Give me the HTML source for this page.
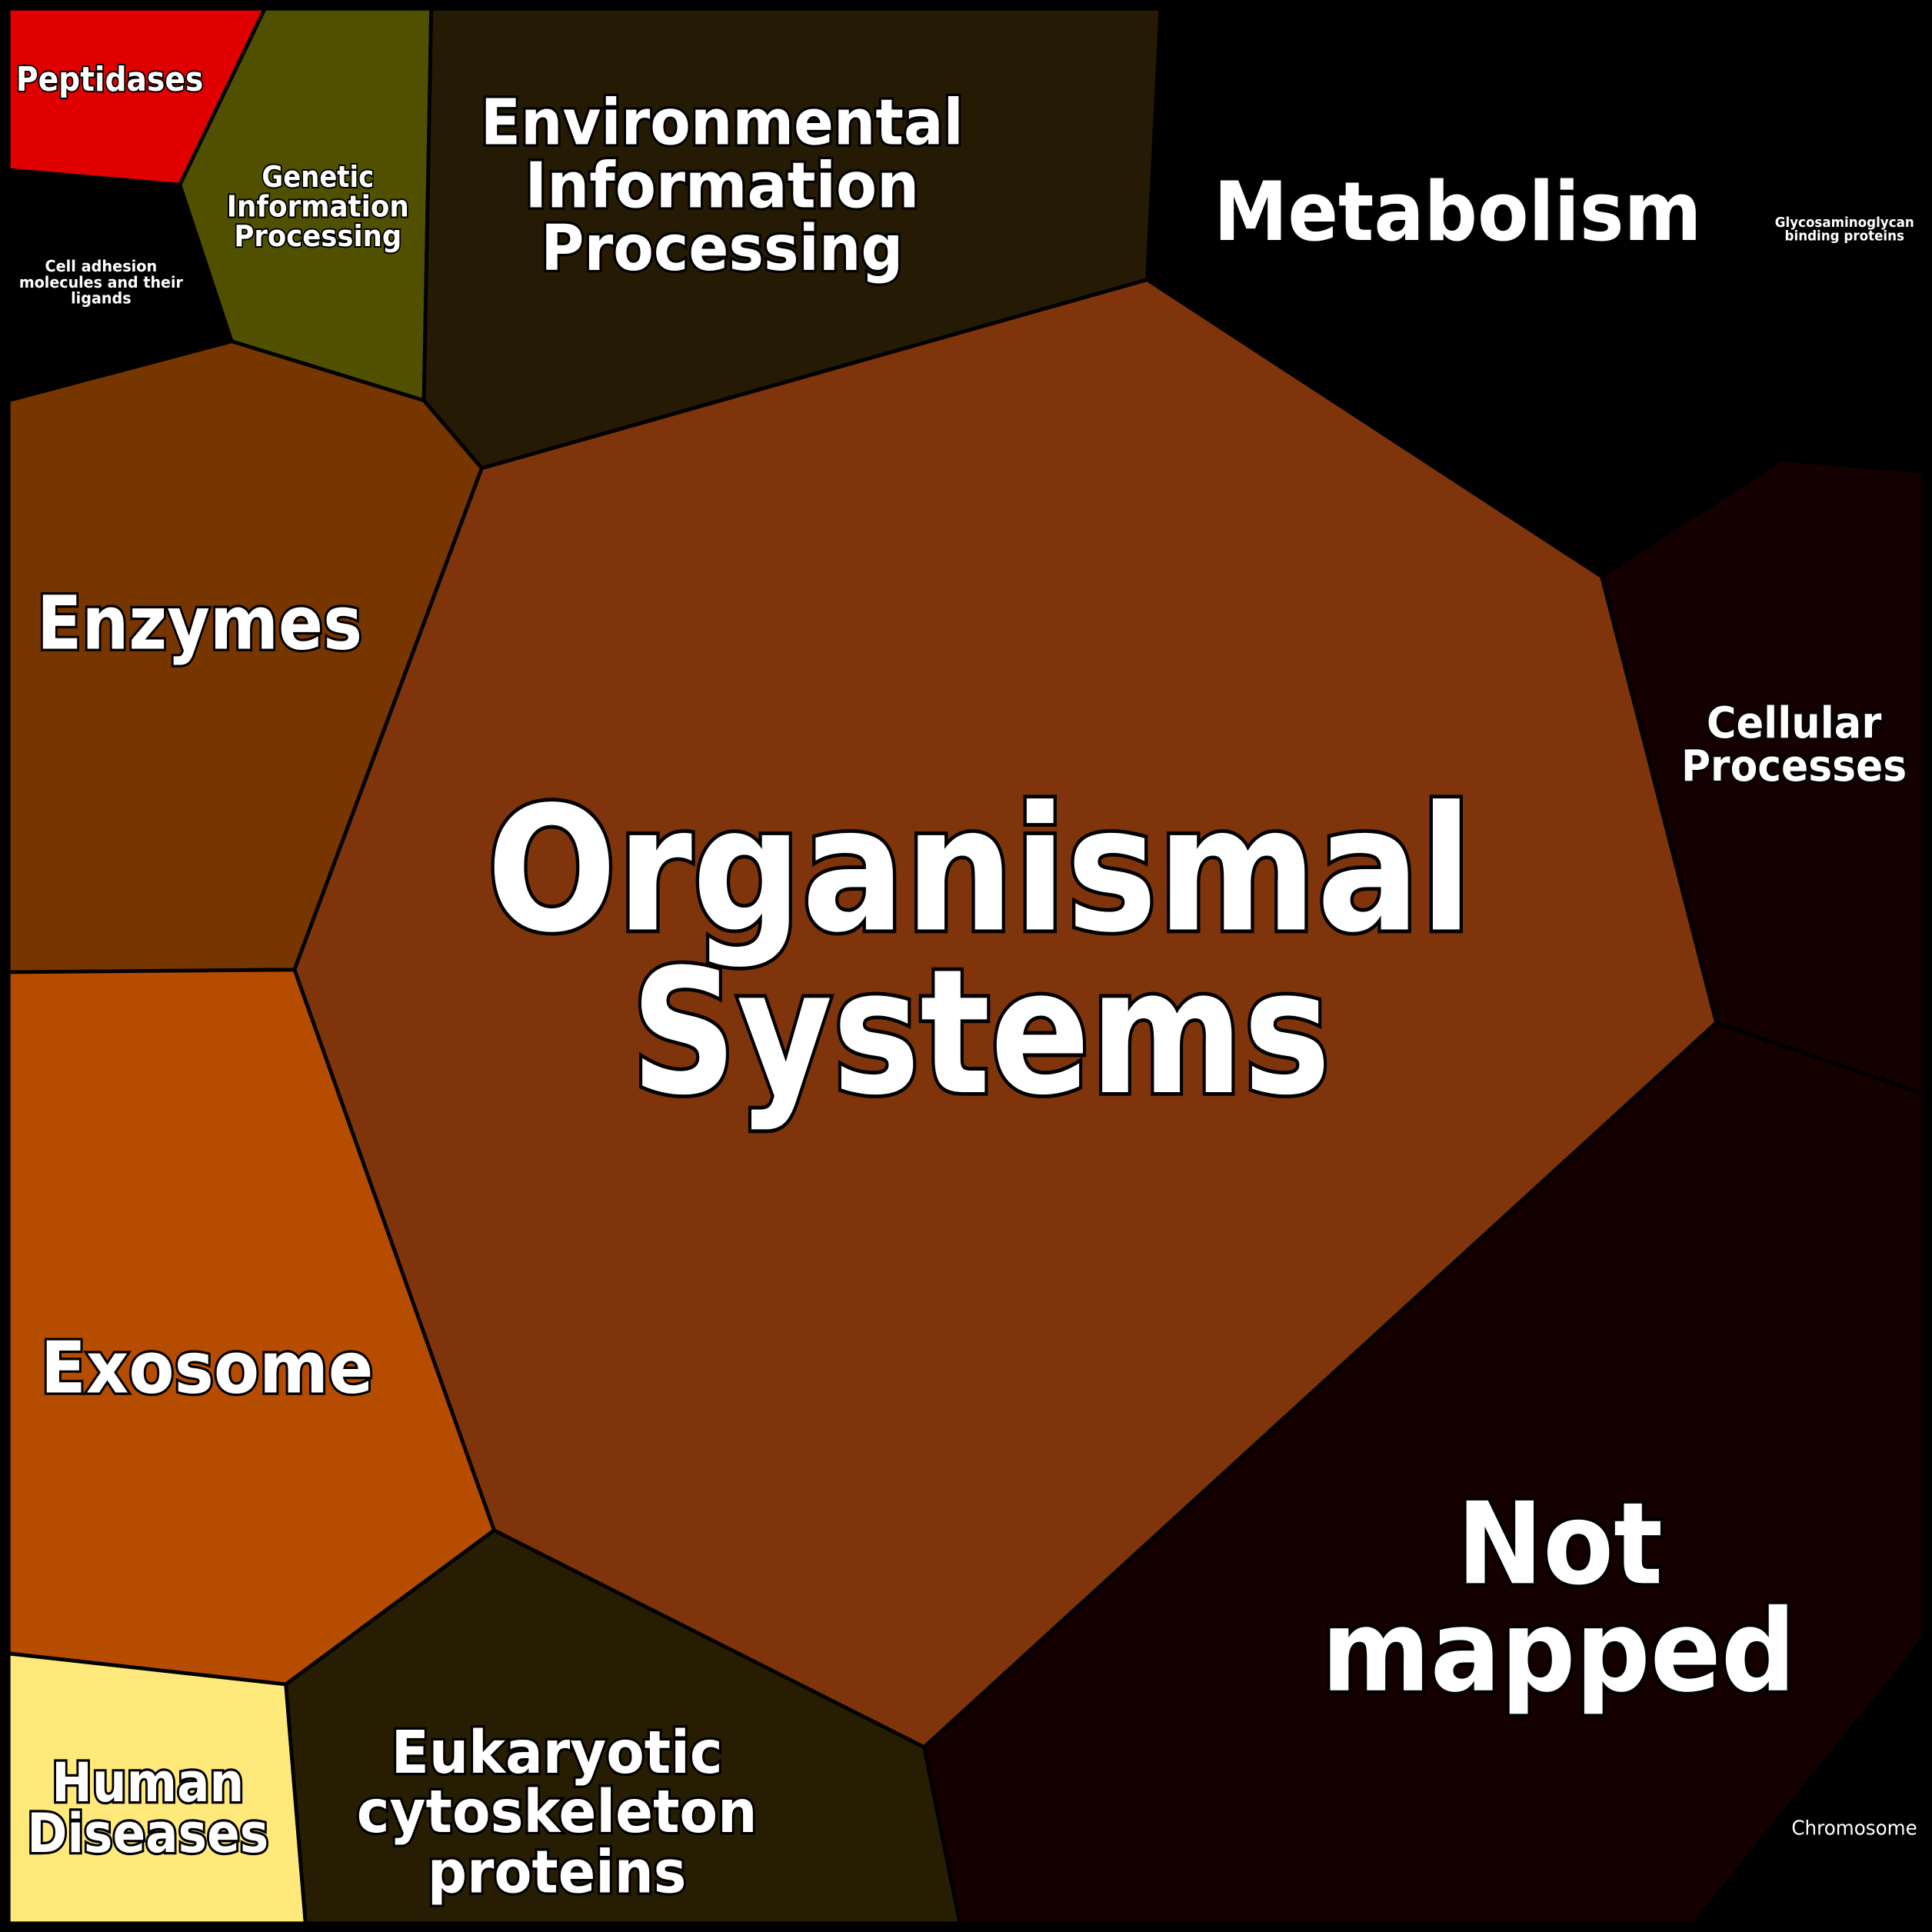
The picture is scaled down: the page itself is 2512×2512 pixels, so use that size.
<!DOCTYPE html>
<html><head><meta charset="utf-8"><style>
html,body{margin:0;padding:0;background:#000;}
svg{display:block;}
text{font-family:"DejaVu Sans","Liberation Sans",sans-serif;font-weight:bold;fill:#fff;stroke:#000;paint-order:stroke;text-anchor:middle;dominant-baseline:central;}
</style></head><body>
<svg width="2512" height="2512" viewBox="0 0 1568 1568" xmlns="http://www.w3.org/2000/svg">
<rect x="0" y="0" width="1568" height="1568" fill="#000"/>
<g stroke="#000" stroke-width="3" stroke-linejoin="round">
<polygon fill="#e00000" points="7,7 215,7 146,150 7,138"/>
<polygon fill="#000" points="7,138 146,150 188,277 7,325"/>
<polygon fill="#505000" points="215,7 350,7 344,325 188,277 146,150"/>
<polygon fill="#251a03" points="350,7 942,7 931,227 391,380 344,325"/>
<polygon fill="#000" points="942,7 1561,7 1561,383 1445,373 1300,468 931,227"/>
<polygon fill="#773500" points="7,325 188,277 344,325 391,380 239,787 7,789"/>
<polygon fill="#7f340b" points="391,380 931,227 1300,468 1393,830 750,1418 401,1242 239,787"/>
<polygon fill="#140000" points="1300,468 1445,373 1561,383 1561,888 1393,830"/>
<polygon fill="#150000" points="1393,830 1561,888 1561,1330 1375,1561 779,1561 750,1418"/>
<polygon fill="#000" points="1561,1330 1561,1561 1375,1561"/>
<polygon fill="#b54c00" points="7,789 239,787 401,1242 232,1367 7,1342"/>
<polygon fill="#ffe97a" points="7,1342 232,1367 248,1561 7,1561"/>
<polygon fill="#271d02" points="232,1367 401,1242 750,1418 779,1561 248,1561"/>
</g>
<rect x="3" y="3" width="1562" height="1562" fill="none" stroke="#000" stroke-width="7"/>
<g lengthAdjust="spacingAndGlyphs">
<text x="89" y="65" font-size="27" stroke-width="2.5" textLength="152" lengthAdjust="spacingAndGlyphs">Peptidases</text>
<text x="82" y="216" font-size="13" stroke-width="1" textLength="91" lengthAdjust="spacingAndGlyphs">Cell adhesion</text>
<text x="82" y="229" font-size="13" stroke-width="1" textLength="133" lengthAdjust="spacingAndGlyphs">molecules and their</text>
<text x="82" y="242" font-size="13" stroke-width="1" textLength="49" lengthAdjust="spacingAndGlyphs">ligands</text>
<text x="258" y="144" font-size="24" stroke-width="2.5" textLength="91" lengthAdjust="spacingAndGlyphs">Genetic</text>
<text x="258" y="168" font-size="24" stroke-width="2.5" textLength="148" lengthAdjust="spacingAndGlyphs">Information</text>
<text x="258" y="192" font-size="24" stroke-width="2.5" textLength="136" lengthAdjust="spacingAndGlyphs">Processing</text>
<text x="586" y="100" font-size="51" stroke-width="4" textLength="392" lengthAdjust="spacingAndGlyphs">Environmental</text>
<text x="586" y="151" font-size="51" stroke-width="4" textLength="320" lengthAdjust="spacingAndGlyphs">Information</text>
<text x="586" y="202" font-size="51" stroke-width="4" textLength="294" lengthAdjust="spacingAndGlyphs">Processing</text>
<text x="1183" y="172" font-size="66" stroke-width="4" textLength="396" lengthAdjust="spacingAndGlyphs">Metabolism</text>
<text x="1497" y="181" font-size="11" stroke-width="1" textLength="113" lengthAdjust="spacingAndGlyphs">Glycosaminoglycan</text>
<text x="1497" y="192" font-size="11" stroke-width="1" textLength="97" lengthAdjust="spacingAndGlyphs">binding proteins</text>
<text x="162" y="506" font-size="60" stroke-width="4" textLength="264" lengthAdjust="spacingAndGlyphs">Enzymes</text>
<text x="1456" y="587" font-size="35" stroke-width="3" textLength="142" lengthAdjust="spacingAndGlyphs">Cellular</text>
<text x="1456" y="622" font-size="35" stroke-width="3" textLength="183" lengthAdjust="spacingAndGlyphs">Processes</text>
<text x="795" y="706" font-size="140" stroke-width="6" textLength="800" lengthAdjust="spacingAndGlyphs">Organismal</text>
<text x="796" y="838" font-size="140" stroke-width="6" textLength="568" lengthAdjust="spacingAndGlyphs">Systems</text>
<text x="1266" y="1253" font-size="92" stroke-width="5" textLength="167" lengthAdjust="spacingAndGlyphs">Not</text>
<text x="1265" y="1340" font-size="92" stroke-width="5" textLength="385" lengthAdjust="spacingAndGlyphs">mapped</text>
<text x="168" y="1110" font-size="58" stroke-width="4" textLength="270" lengthAdjust="spacingAndGlyphs">Exosome</text>
<text x="120" y="1447" font-size="44" stroke-width="4" textLength="156" lengthAdjust="spacingAndGlyphs">Human</text>
<text x="120" y="1488" font-size="44" stroke-width="4" textLength="196" lengthAdjust="spacingAndGlyphs">Diseases</text>
<text x="452" y="1423" font-size="48" stroke-width="4" textLength="269" lengthAdjust="spacingAndGlyphs">Eukaryotic</text>
<text x="452" y="1471" font-size="48" stroke-width="4" textLength="325" lengthAdjust="spacingAndGlyphs">cytoskeleton</text>
<text x="452" y="1520" font-size="48" stroke-width="4" textLength="210" lengthAdjust="spacingAndGlyphs">proteins</text>
<text x="1505" y="1484" font-size="16" stroke-width="1" style="font-weight:normal" textLength="102" lengthAdjust="spacingAndGlyphs">Chromosome</text>
</g>
</svg>
</body></html>
